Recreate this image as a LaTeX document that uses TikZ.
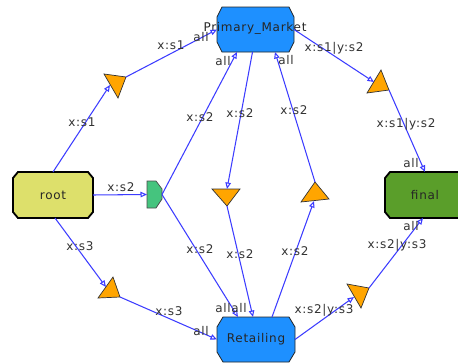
\documentclass[tikz,border=0pt]{standalone}
\usepackage{fontspec}
\setmainfont[LetterSpace=6]{DejaVu Sans}
\usetikzlibrary{arrows.meta,calc}
\definecolor{edgeblue}{HTML}{3C3CFF}
\definecolor{pmblue}{HTML}{1E90FF}
\definecolor{rootyel}{HTML}{DDE06B}
\definecolor{fingreen}{HTML}{5A9E2A}
\definecolor{andgreen}{HTML}{45C47E}
\definecolor{triorange}{HTML}{FFA500}
\definecolor{lbl}{HTML}{333333}
\newcommand{\chamfbox}[4]{%
 \draw[#1] ([xshift=#3]#2.north west) -- ([xshift=-#3]#2.north east) -- ([yshift=-#4]#2.north east) -- ([yshift=#4]#2.south east) -- ([xshift=-#3]#2.south east) -- ([xshift=#3]#2.south west) -- ([yshift=#4]#2.south west) -- ([yshift=-#4]#2.north west) -- cycle;}
\tikzset{
  frame/.style={inner sep=0pt, outer sep=0pt},
  lab/.style={text=lbl, font=\fontsize{12}{13}\selectfont, inner sep=0pt},
  ntext/.style={text=black!85, font=\fontsize{12}{13}\selectfont, inner sep=0pt},
  edge/.style={draw=edgeblue, line width=1.05pt, -{Triangle[open,length=6.5pt,width=5.5pt]}},
  tri/.style={fill=triorange, draw=black!80, line width=0.7pt, line join=miter},
}
\begin{document}
\begin{tikzpicture}[x=1pt,y=-1pt]
\useasboundingbox (0,0) rectangle (458,364);
\fill[white] (0,0) rectangle (458,364);
% frames
\node[frame, minimum width=77pt, minimum height=45pt] (pm) at (255.5,29.5) {};
\node[frame, minimum width=78pt, minimum height=45pt] (ret) at (256,339.5) {};
\node[frame, minimum width=80pt, minimum height=46pt] (root) at (53,195) {};
\node[frame, minimum width=80pt, minimum height=46pt] (final) at (425,195) {};
\node[frame, minimum width=15pt, minimum height=27pt] (and) at (154.5,194.5) {};
\chamfbox{fill=pmblue, draw=black!85, line width=0.8pt}{pm}{5pt}{10pt}
\chamfbox{fill=pmblue, draw=black!85, line width=0.8pt}{ret}{6pt}{10pt}
\chamfbox{fill=rootyel, draw=black, line width=1.8pt}{root}{5pt}{6pt}
\chamfbox{fill=fingreen, draw=black, line width=1.8pt}{final}{5pt}{6pt}
\draw[fill=andgreen, draw=black!70, line width=0.7pt] (and.north west) -- ([xshift=-6pt]and.north east) -- ([yshift=-8pt]and.north east) -- ([yshift=9pt]and.south east) -- ([xshift=-6pt]and.south east) -- (and.south west) -- cycle;
\node[ntext] (pmt) at (255,28) {Primary\_Market};
\node[ntext] (rett) at (256,339) {Retailing};
\node[ntext] (roott) at (53,195) {root};
\node[ntext] (finalt) at (425,195) {final};
% triangles
\coordinate (t1a) at (104,74); \coordinate (t1b) at (126,77); \coordinate (t1c) at (118,98);
\coordinate (t2a) at (367,93); \coordinate (t2b) at (381,70); \coordinate (t2c) at (389,90);
\coordinate (t3a) at (212,189); \coordinate (t3b) at (240,189); \coordinate (t3c) at (227,206);
\coordinate (t4a) at (301,202); \coordinate (t4b) at (315,182); \coordinate (t4c) at (329,199);
\coordinate (t5a) at (98,298); \coordinate (t5b) at (113,277); \coordinate (t5c) at (120,297);
\coordinate (t6a) at (347,284); \coordinate (t6b) at (369,288); \coordinate (t6c) at (361,308);
\foreach \t in {t1,t2,t3,t4,t5,t6} {\draw[tri] (\t a) -- (\t b) -- (\t c) -- cycle;}
\coordinate (t1in) at (110,85);
\coordinate (t2in) at (374,82);
\coordinate (t3in) at (227,189);
\coordinate (t4in) at (314,201);
\coordinate (t5in) at (106,287);
\coordinate (t6in) at (354,297);
% edges
\draw[edge] (root.north) -- (t1in);
\draw[edge] (t1b) -- (pm.west);
\draw[edge] (root.east) -- (and.west);
\draw[edge] (and.east) -- ([xshift=-18.5pt]pm.south);
\draw[edge] (and.east) -- ([xshift=-18pt]ret.north);
\draw[edge] ([xshift=-3pt]pm.south) -- (t3in);
\draw[edge] (t3c) -- ([xshift=-3pt]ret.north);
\draw[edge] ([xshift=16pt]ret.north) -- (t4in);
\draw[edge] (t4b) -- ([xshift=19.5pt]pm.south);
\draw[edge] (pm.east) -- (t2in);
\draw[edge] (t2c) -- (final.north);
\draw[edge] ([xshift=2pt]root.south) -- (t5in);
\draw[edge] (t5c) -- (ret.west);
\draw[edge] (ret.east) -- (t6in);
\draw[edge] (t6b) -- ([xshift=-2pt]final.south);
% labels
\node[lab] (l1) at (82,122) {x:s1};
\node[lab] (l2) at (171,45) {x:s1};
\node[lab] (a2) at (201,37) {all};
\node[lab] (l3) at (121,187) {x:s2};
\node[lab] (l4) at (200,117) {x:s2};
\node[lab] (a4) at (223,61) {all};
\node[lab] (l5) at (200,249) {x:s2};
\node[lab] (a5) at (223,308) {all};
\node[lab] (l6) at (240,113) {x:s2};
\node[lab] (l7) at (240,254) {x:s2};
\node[lab] (a7) at (239,308) {all};
\node[lab] (l8) at (295,251) {x:s2};
\node[lab] (l9) at (294,110) {x:s2};
\node[lab] (a9) at (286,60) {all};
\node[lab] (l10) at (334,48) {x:s1|y:s2};
\node[lab] (l11) at (406,124) {x:s1|y:s2};
\node[lab] (a11) at (411,163) {all};
\node[lab] (l12) at (80,246) {x:s3};
\node[lab] (l13) at (169,311) {x:s3};
\node[lab] (a13) at (201,331) {all};
\node[lab] (l14) at (324,310) {x:s2|y:s3};
\node[lab] (l15) at (397,245) {x:s2|y:s3};
\node[lab] (a15) at (411,226) {all};
\end{tikzpicture}
\end{document}
